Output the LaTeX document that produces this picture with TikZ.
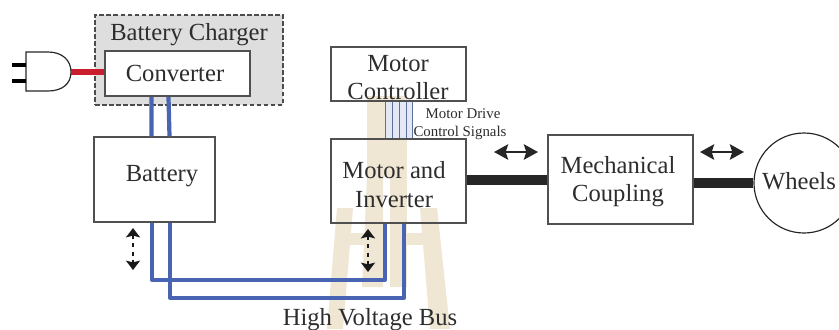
\documentclass[tikz,border=0pt]{standalone}
\usepackage{fontspec}
\setmainfont{Liberation Serif}
\usetikzlibrary{arrows.meta,positioning}
\definecolor{evblue}{RGB}{72,100,178}
\definecolor{evred}{RGB}{200,30,45}
\definecolor{evtext}{RGB}{45,45,45}
\definecolor{evline}{RGB}{80,80,80}
\definecolor{evmark}{RGB}{240,230,212}
\definecolor{evgray}{RGB}{222,222,222}
\tikzstyle{block} = [rectangle, draw=evline, line width=1.1pt, fill=white, inner sep=0pt]
\tikzstyle{txt} = [inner sep=0pt, align=center, text=evtext, font=\fontsize{21}{24.5}\selectfont]
\tikzstyle{smalltxt} = [inner sep=0pt, text=evtext, font=\fontsize{12.7}{14}\selectfont]
\tikzstyle{bus} = [line width=3.6pt, color=evblue, line join=round]
\tikzstyle{signal} = [line width=0.7pt, color=evblue!60!gray]
\tikzstyle{shaft} = [line width=8pt, color=black!85]
\tikzstyle{power} = [line width=2.2pt, color=black!85, {Stealth[length=12pt,width=13pt,inset=2pt]}-{Stealth[length=12pt,width=13pt,inset=2pt]}]
\tikzstyle{flow} = [line width=2.4pt, dash pattern=on 3.5pt off 3.5pt, color=black!90, {Stealth[length=8pt,width=12pt,inset=1.5pt]}-{Stealth[length=8pt,width=12pt,inset=1.5pt]}]

\begin{document}
\begin{tikzpicture}[x=0.03cm,y=-0.03cm]
\useasboundingbox[clip] (0,0) rectangle (839,329);
% Watermark behind everything
\fill[evmark] (367,96) rectangle (407,177);
\fill[evmark] (367,177) -- (383,177) -- (383,287) -- (362,287) -- cycle;
\fill[evmark] (390,177) -- (407,177) -- (407,287) -- (390,287) -- cycle;
\fill[evmark] (337,208) -- (353,208) -- (343,329) -- (327,329) -- cycle;
\fill[evmark] (420,208) -- (437,208) -- (450,329) -- (430,329) -- cycle;
\fill[evmark] (345,233) rectangle (367,245);
\fill[evmark] (403,233) rectangle (425,245);

% Charger
\node (charger) [block, draw=black!70, dash pattern=on 4pt off 2pt, line width=1.8pt, fill=evgray, minimum width=5.64cm, minimum height=2.7cm] at (189,60) {};
\node (chargertxt) [txt] at (189,34.5) {Battery Charger};
\node (converter) [block, line width=1.8pt, minimum width=4.35cm, minimum height=1.35cm] at (177.5,73.5) {};
\node (convertertxt) [txt] at (175,73) {Converter};

% Blocks
\node (battery) [block, minimum width=3.63cm, minimum height=2.55cm] at (154.5,179.5) {};
\node (batterytxt) [txt] at (162,176) {Battery};
\node (controller) [block, fill=none, minimum width=4.05cm, minimum height=1.62cm] at (398.5,74) {};
\node (controllertxt) [txt] at (398,77.5) {Motor\\Controller};
\node (inverter) [block, fill=none, minimum width=4.05cm, minimum height=2.52cm] at (398.5,181) {};
\node (invertertxt) [txt] at (394,184.5) {Motor and\\Inverter};
\node (coupling) [block, minimum width=4.35cm, minimum height=2.67cm] at (620.5,179.5) {};
\node (couplingtxt) [txt] at (618,181.5) {Mechanical\\Coupling};
\node (wheels) [circle, draw=black!85, line width=1pt, minimum size=3cm, inner sep=0pt] at (804,183) {};
\node (wheelstxt) [txt] at (799,181) {Wheels};

% Plug
\coordinate (plugtip) at (71,72);
\draw[line width=1pt, color=black!85, fill=white] (26,52) -- (48,52) .. controls (62,52) and (71,60) .. (plugtip) .. controls (71,84) and (62,91) .. (48,91) -- (26,91) -- cycle;
\coordinate (pina) at (26,65);
\coordinate (pinb) at (26,81);
\draw[line width=3.4pt, color=black] (pina) -- ++(-14,0);
\draw[line width=3.4pt, color=black] (pinb) -- ++(-14,0);
\draw[line width=5.2pt, color=evred] (plugtip) -- (converter.west |- plugtip);

% Buses
\draw[bus] ([xshift=-0.78cm]converter.south) -- ([xshift=-0.09cm]battery.north);
\draw[bus] ([xshift=-0.27cm]converter.south) -- ([xshift=0.45cm]battery.north);
\draw[bus] ([xshift=-0.075cm]battery.south) -- ++(0,57) -| ([xshift=-0.405cm]inverter.south);
\draw[bus] ([xshift=0.465cm]battery.south) -- ++(0,75) -| ([xshift=0.165cm]inverter.south);

% Signals
\fill[evblue!15] ([xshift=-0.405cm]controller.south) rectangle ([xshift=0.405cm]inverter.north);
\foreach \dx in {-0.405,-0.195,0.015,0.225,0.405}
  \draw[signal] ([xshift=\dx cm]controller.south) -- ([xshift=\dx cm]inverter.north);
\node (drivetxt) [smalltxt] at (463,114) {Motor Drive};
\node (signaltxt) [smalltxt] at (460,133) {Control Signals};

% Shafts
\draw[shaft] (inverter.east |- 0,180) -- (coupling.west |- 0,180);
\draw[shaft, line width=9pt] (coupling.east |- wheels.west) -- (wheels.west);

% Power flow arrows
\coordinate (powera) at (494,152);
\coordinate (powerb) at (538,152);
\coordinate (powerc) at (700,152);
\coordinate (powerd) at (744,152);
\draw[power] (powera) -- (powerb);
\draw[power] (powerc) -- (powerd);
\coordinate (flowa) at (133,228);
\coordinate (flowb) at (133,270);
\coordinate (flowc) at (368,229);
\coordinate (flowd) at (368,272);
\draw[flow] (flowa) -- (flowb);
\draw[flow] (flowc) -- (flowd);

\node (bustxt) [txt] at (370,319.5) {High Voltage Bus};
\end{tikzpicture}
\end{document}
